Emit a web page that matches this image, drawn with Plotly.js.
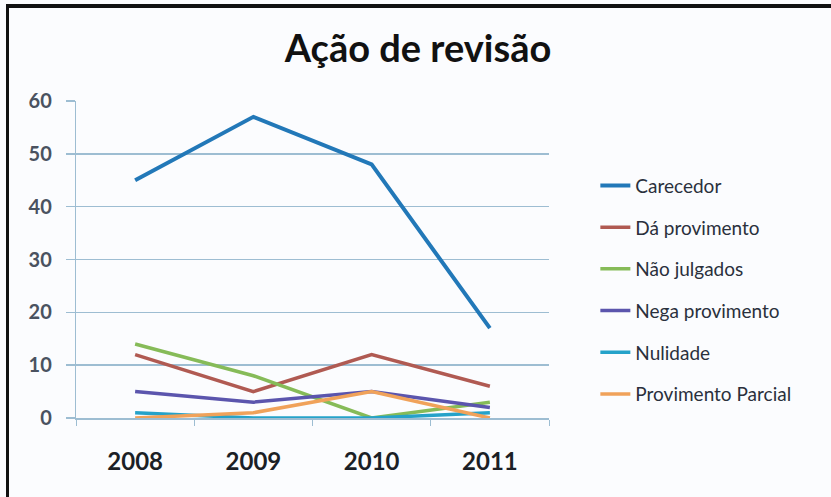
<!DOCTYPE html>
<html>
<head>
<meta charset="utf-8">
<script src="https://cdn.plot.ly/plotly-3.0.1.min.js"></script>
<style>
  html, body { margin: 0; padding: 0; background: #ffffff; }
  #wrap { position: relative; width: 831px; height: 497px; overflow: hidden; }
  #chart { position: absolute; left: 0; top: 0; width: 831px; height: 497px; }
  .bt { position: absolute; left: 6px; top: 4px; width: 825px; height: 4px; background: #111; }
  .bl { position: absolute; left: 6px; top: 4px; width: 3px; height: 493px; background: #111; }
</style>
</head>
<body>
<div id="wrap">
  <div id="chart"></div>
  <div class="bt"></div>
  <div class="bl"></div>
</div>
<script>
const years = ["2008", "2009", "2010", "2011"];
const seriesNames = ["Carecedor", "Dá provimento", "Não julgados", "Nega provimento", "Nulidade", "Provimento Parcial"];
const carecedor = [45, 57, 48, 17];
const daProvimento = [12, 5, 12, 6];
const naoJulgados = [14, 8, 0, 3];
const negaProvimento = [5, 3, 5, 2];
const nulidade = [1, 0, 0, 1];
const provimentoParcial = [0, 1, 5, 0];
const yTicks = [0, 10, 20, 30, 40, 50, 60];

const values = [carecedor, daProvimento, naoJulgados, negaProvimento, nulidade, provimentoParcial];
const colors = ["#2278b8", "#b05a52", "#86bb58", "#5b55ad", "#25a2c9", "#f0a25a"];
const widths = [4, 3.5, 3.5, 3.5, 3.5, 3.5];

const traces = seriesNames.map((n, i) => ({
  type: "scatter",
  mode: "lines",
  name: n,
  legendgroup: n,
  x: years,
  y: values[i],
  line: { color: colors[i], width: widths[i] },
  hoverinfo: "x+y+name"
}));

const layout = {
  width: 831,
  height: 497,
  paper_bgcolor: "#fbfcfe",
  plot_bgcolor: "#fbfcfe",
  margin: { l: 76, r: 282, t: 101, b: 79 },
  title: {
    text: "Ação de revisão",
    font: { family: "Lato, 'Open Sans', sans-serif", size: 38, weight: "bold", color: "#111111" },
    x: 0.503, xref: "container", xanchor: "center",
    y: 0.902, yref: "container", yanchor: "middle"
  },
  showlegend: true,
  legend: {
    x: 1.098, xanchor: "left",
    y: 0.793, yanchor: "top",
    traceorder: "grouped",
    tracegroupgap: 14,
    bgcolor: "rgba(0,0,0,0)",
    font: { family: "Lato, 'Open Sans', sans-serif", size: 19, color: "#2a303c" }
  },
  xaxis: {
    type: "category",
    categoryorder: "array",
    categoryarray: years,
    range: [-0.5, 3.5],
    showgrid: false,
    zeroline: false,
    showline: true,
    linecolor: "#9dbdd2",
    linewidth: 1.5,
    ticks: "outside",
    tickson: "boundaries",
    ticklen: 6,
    tickcolor: "#9dbdd2",
    ticklabelstandoff: 22,
    tickfont: { family: "Lato, 'Open Sans', sans-serif", size: 24, weight: "bold", color: "#1b1f26" }
  },
  yaxis: {
    range: [0, 60],
    tickvals: yTicks,
    ticktext: yTicks.map(String),
    showgrid: true,
    gridcolor: "#9dbdd2",
    gridwidth: 1.5,
    zeroline: false,
    showline: true,
    linecolor: "#9dbdd2",
    linewidth: 1.2,
    ticks: "outside",
    ticklen: 9,
    tickcolor: "#9dbdd2",
    tickwidth: 1.5,
    ticklabelstandoff: 10,
    tickfont: { family: "Lato, 'Open Sans', sans-serif", size: 20, weight: "bold", color: "#4a5260" }
  }
};

Plotly.newPlot("chart", traces, layout, { displayModeBar: false, staticPlot: true });
</script>
</body>
</html>
